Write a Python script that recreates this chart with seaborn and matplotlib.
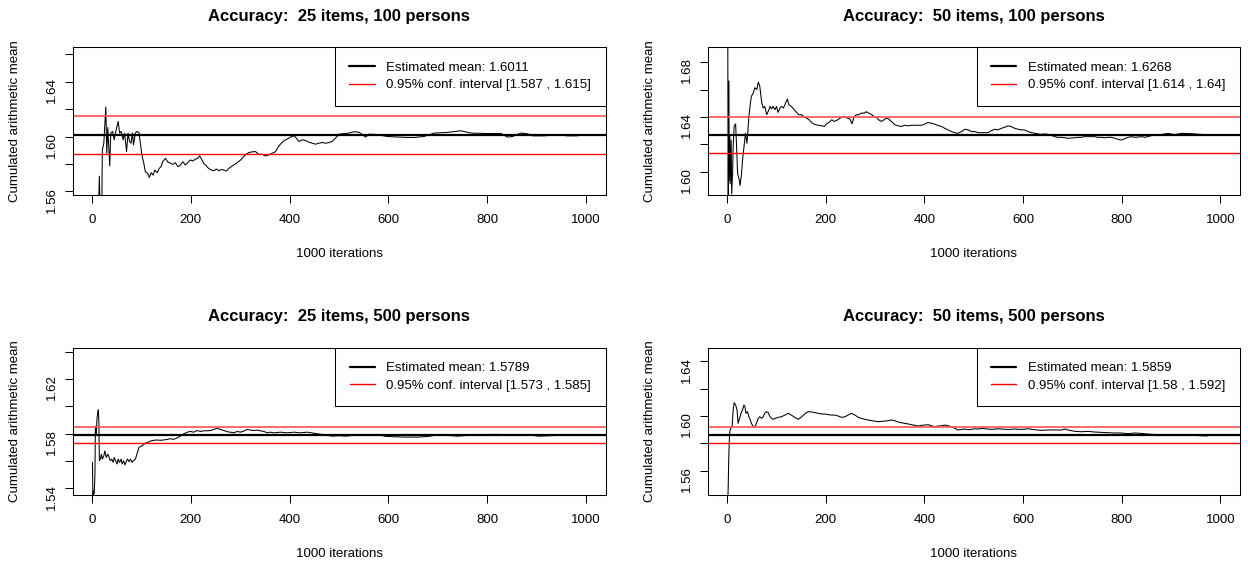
import matplotlib
matplotlib.use("Agg")
import matplotlib.pyplot as plt
import seaborn as sns
import pandas as pd
import numpy as np

# valeurs : (itération, moyenne cumulée)
items = [25, 50, 25, 50]
persons = [100, 100, 500, 500]
means = [1.6011, 1.6268, 1.5789, 1.5859]
ci_low = [1.587, 1.614, 1.573, 1.58]
ci_high = [1.615, 1.64, 1.585, 1.592]

curve_25_100 = [
    (1, 1.450), (3, 1.500), (8, 1.530), (13, 1.545), (15, 1.571), (16, 1.552),
    (20, 1.550), (21, 1.590), (24, 1.5951), (28, 1.6216), (30, 1.5878), (32, 1.6066),
    (36, 1.5785), (38, 1.6025), (42, 1.6037), (45, 1.5976), (49, 1.6049), (53, 1.6110),
    (56, 1.6025), (59, 1.6037), (63, 1.5976), (66, 1.6025), (70, 1.5890), (73, 1.6025),
    (76, 1.5964), (79, 1.5951), (82, 1.6025), (84, 1.5939), (88, 1.6025), (91, 1.6037),
    (95, 1.6030), (98, 1.5951), (101, 1.5866), (105, 1.5804), (108, 1.5743), (113, 1.5731),
    (116, 1.5701), (120, 1.5736), (124, 1.5718), (127, 1.5755), (132, 1.5736), (136, 1.5767),
    (140, 1.5780), (143, 1.5816), (149, 1.5841), (153, 1.5816), (159, 1.5804), (164, 1.5797),
    (169, 1.5809), (174, 1.5780), (179, 1.5792), (184, 1.5816), (189, 1.5792), (194, 1.5809),
    (199, 1.5829), (204, 1.5821), (209, 1.5834), (214, 1.5841), (218, 1.5858), (222, 1.5834),
    (226, 1.5804), (232, 1.5785), (236, 1.5767), (242, 1.5755), (247, 1.5750), (252, 1.5763),
    (257, 1.5750), (262, 1.5760), (267, 1.5755), (272, 1.5748), (277, 1.5767), (282, 1.5780),
    (287, 1.5792), (294, 1.5809), (301, 1.5829), (307, 1.5853), (313, 1.5873), (318, 1.5883),
    (324, 1.5888), (331, 1.5890), (338, 1.5870), (345, 1.5870), (351, 1.5858), (358, 1.5866),
    (365, 1.5878), (372, 1.5890), (376, 1.5919), (382, 1.5946), (389, 1.5971), (395, 1.5981),
    (402, 1.5996), (409, 1.6005), (414, 1.5988), (419, 1.5964), (426, 1.5976), (432, 1.5971),
    (439, 1.5959), (446, 1.5951), (453, 1.5944), (459, 1.5951), (466, 1.5956), (473, 1.5951),
    (480, 1.5956), (486, 1.5964), (493, 1.5988), (500, 1.6017), (507, 1.6020), (514, 1.6022),
    (520, 1.6025), (527, 1.6032), (534, 1.6035), (541, 1.6030), (547, 1.6015), (554, 1.5996),
    (561, 1.6017), (575, 1.6015), (598, 1.6000), (620, 1.5996), (640, 1.5993), (652, 1.5993),
    (672, 1.6000), (693, 1.6025), (720, 1.6030), (747, 1.6042), (767, 1.6025), (794, 1.6022),
    (828, 1.6022), (841, 1.5996), (851, 1.6000), (868, 1.6025), (882, 1.6020), (892, 1.6005),
    (916, 1.6005), (940, 1.6012), (963, 1.6005), (980, 1.6005), (1000, 1.6011),
]

curve_50_100 = [
    (1, 1.720), (2, 1.550), (3, 1.6662), (4, 1.5936), (5, 1.6256), (6, 1.5911),
    (8, 1.6230), (9, 1.5838), (11, 1.6000), (12, 1.6182), (14, 1.6330), (17, 1.6349),
    (19, 1.6182), (21, 1.5985), (24, 1.5948), (26, 1.5899), (29, 1.5985), (31, 1.6084),
    (34, 1.6182), (37, 1.6280), (40, 1.6207), (42, 1.6305), (44, 1.6403), (47, 1.6502),
    (49, 1.6551), (53, 1.6576), (56, 1.6613), (60, 1.6600), (63, 1.6654), (66, 1.6625),
    (70, 1.6502), (73, 1.6465), (76, 1.6477), (80, 1.6416), (83, 1.6440), (87, 1.6477),
    (90, 1.6458), (93, 1.6477), (97, 1.6453), (100, 1.6477), (103, 1.6433), (107, 1.6465),
    (110, 1.6477), (114, 1.6465), (117, 1.6490), (120, 1.6514), (122, 1.6531), (125, 1.6490),
    (130, 1.6477), (136, 1.6453), (141, 1.6433), (145, 1.6416), (151, 1.6416), (156, 1.6398),
    (161, 1.6391), (166, 1.6379), (171, 1.6359), (176, 1.6347), (181, 1.6342), (187, 1.6337),
    (191, 1.6337), (197, 1.6330), (201, 1.6349), (206, 1.6359), (212, 1.6379), (217, 1.6367),
    (222, 1.6374), (226, 1.6384), (232, 1.6398), (237, 1.6403), (242, 1.6394), (249, 1.6384),
    (253, 1.6349), (257, 1.6398), (262, 1.6416), (267, 1.6416), (272, 1.6428), (278, 1.6428),
    (282, 1.6438), (287, 1.6428), (293, 1.6416), (298, 1.6403), (303, 1.6396), (307, 1.6379),
    (313, 1.6367), (318, 1.6379), (323, 1.6391), (328, 1.6384), (333, 1.6367), (340, 1.6342),
    (347, 1.6335), (353, 1.6330), (360, 1.6339), (367, 1.6335), (374, 1.6339), (380, 1.6339),
    (387, 1.6339), (394, 1.6339), (401, 1.6349), (407, 1.6359), (414, 1.6354), (421, 1.6347),
    (428, 1.6337), (435, 1.6330), (441, 1.6317), (448, 1.6305), (455, 1.6293), (462, 1.6285),
    (468, 1.6280), (475, 1.6293), (482, 1.6310), (489, 1.6305), (495, 1.6293), (502, 1.6293),
    (509, 1.6285), (516, 1.6285), (522, 1.6285), (529, 1.6285), (536, 1.6300), (543, 1.6310),
    (549, 1.6305), (556, 1.6317), (563, 1.6325), (570, 1.6335), (576, 1.6330), (583, 1.6317),
    (590, 1.6310), (597, 1.6305), (603, 1.6305), (610, 1.6293), (617, 1.6285), (624, 1.6280),
    (630, 1.6276), (637, 1.6273), (644, 1.6276), (651, 1.6273), (657, 1.6266), (664, 1.6256),
    (671, 1.6251), (678, 1.6251), (685, 1.6248), (691, 1.6244), (698, 1.6246), (705, 1.6248),
    (712, 1.6251), (718, 1.6251), (725, 1.6256), (732, 1.6256), (739, 1.6256), (745, 1.6256),
    (752, 1.6251), (759, 1.6251), (766, 1.6248), (772, 1.6251), (779, 1.6251), (786, 1.6244),
    (793, 1.6236), (799, 1.6231), (806, 1.6241), (813, 1.6251), (820, 1.6256), (826, 1.6251),
    (833, 1.6253), (840, 1.6256), (847, 1.6251), (853, 1.6256), (860, 1.6263), (880, 1.6271),
    (894, 1.6280), (907, 1.6271), (921, 1.6280), (941, 1.6278), (970, 1.6270), (1000, 1.6268),
]

curve_25_500 = [
    (1, 1.5590), (2, 1.5300), (3, 1.5380), (4, 1.5360), (5, 1.5400), (6, 1.5500),
    (7, 1.5855), (9, 1.5800), (10, 1.5903), (12, 1.5963), (13, 1.5975), (14, 1.5880),
    (15, 1.5602), (17, 1.5614), (19, 1.5650), (21, 1.5614), (24, 1.5638), (26, 1.5674),
    (29, 1.5626), (32, 1.5650), (34, 1.5634), (37, 1.5602), (40, 1.5614), (43, 1.5590),
    (45, 1.5626), (48, 1.5602), (51, 1.5578), (53, 1.5614), (56, 1.5590), (59, 1.5614),
    (61, 1.5578), (64, 1.5602), (67, 1.5571), (70, 1.5602), (72, 1.5614), (75, 1.5595),
    (78, 1.5614), (81, 1.5590), (84, 1.5602), (88, 1.5614), (91, 1.5650), (95, 1.5698),
    (98, 1.5706), (101, 1.5710), (105, 1.5722), (108, 1.5730), (111, 1.5734), (115, 1.5739),
    (118, 1.5746), (125, 1.5751), (132, 1.5754), (138, 1.5751), (145, 1.5754), (152, 1.5758),
    (159, 1.5763), (165, 1.5758), (172, 1.5768), (179, 1.5782), (186, 1.5799), (193, 1.5811),
    (199, 1.5816), (206, 1.5811), (213, 1.5823), (220, 1.5816), (226, 1.5821), (233, 1.5821),
    (240, 1.5823), (247, 1.5831), (253, 1.5840), (260, 1.5831), (267, 1.5823), (274, 1.5814),
    (280, 1.5811), (287, 1.5806), (294, 1.5816), (301, 1.5811), (307, 1.5819), (314, 1.5831),
    (321, 1.5826), (328, 1.5823), (334, 1.5826), (341, 1.5821), (348, 1.5816), (355, 1.5806),
    (361, 1.5811), (368, 1.5806), (382, 1.5811), (395, 1.5806), (409, 1.5811), (422, 1.5806),
    (436, 1.5811), (455, 1.5800), (470, 1.5792), (486, 1.5782), (500, 1.5785), (514, 1.5782),
    (535, 1.5790), (557, 1.5787), (575, 1.5795), (595, 1.5780), (615, 1.5777), (632, 1.5775),
    (660, 1.5775), (682, 1.5780), (700, 1.5792), (740, 1.5782), (780, 1.5792), (820, 1.5795),
    (855, 1.5787), (880, 1.5792), (905, 1.5782), (940, 1.5787), (1000, 1.5789),
]

curve_50_500 = [
    (1, 1.5350), (2, 1.5482), (3, 1.5677), (4, 1.5799), (5, 1.5884), (7, 1.5909),
    (10, 1.5921), (12, 1.6043), (14, 1.6097), (17, 1.6080), (20, 1.6043), (22, 1.5945),
    (25, 1.5982), (28, 1.6019), (31, 1.6043), (34, 1.6080), (36, 1.6067), (38, 1.6019),
    (41, 1.6031), (44, 1.5994), (47, 1.5970), (49, 1.5945), (53, 1.5921), (56, 1.5914),
    (59, 1.5945), (63, 1.5982), (66, 1.5994), (70, 1.5982), (73, 1.5994), (76, 1.6019),
    (80, 1.6031), (83, 1.6024), (86, 1.5999), (90, 1.5982), (93, 1.5975), (97, 1.5982),
    (103, 1.5989), (110, 1.5994), (117, 1.6006), (124, 1.6019), (130, 1.6006), (137, 1.5989),
    (144, 1.5975), (151, 1.5994), (157, 1.6014), (164, 1.6031), (171, 1.6029), (178, 1.6024),
    (185, 1.6019), (191, 1.6014), (198, 1.6014), (205, 1.6009), (212, 1.6006), (218, 1.6006),
    (225, 1.5999), (232, 1.5989), (239, 1.5994), (245, 1.6006), (252, 1.6019), (259, 1.6006),
    (266, 1.5989), (272, 1.5982), (279, 1.5975), (286, 1.5970), (293, 1.5965), (299, 1.5962),
    (306, 1.5958), (313, 1.5960), (320, 1.5962), (326, 1.5965), (333, 1.5970), (340, 1.5965),
    (347, 1.5955), (353, 1.5950), (360, 1.5945), (367, 1.5941), (374, 1.5936), (380, 1.5931),
    (387, 1.5926), (394, 1.5931), (401, 1.5933), (407, 1.5936), (414, 1.5928), (421, 1.5921),
    (428, 1.5926), (435, 1.5928), (441, 1.5933), (448, 1.5928), (455, 1.5921), (462, 1.5909),
    (468, 1.5897), (475, 1.5901), (482, 1.5904), (489, 1.5899), (495, 1.5901), (502, 1.5906),
    (509, 1.5904), (516, 1.5909), (522, 1.5906), (529, 1.5904), (536, 1.5901), (543, 1.5904),
    (549, 1.5906), (556, 1.5904), (570, 1.5901), (583, 1.5904), (597, 1.5901), (610, 1.5906),
    (624, 1.5899), (637, 1.5894), (651, 1.5897), (664, 1.5897), (678, 1.5897), (685, 1.5904),
    (691, 1.5897), (705, 1.5887), (718, 1.5884), (732, 1.5887), (745, 1.5882), (759, 1.5879),
    (772, 1.5877), (786, 1.5875), (799, 1.5875), (813, 1.5870), (826, 1.5875), (840, 1.5872),
    (853, 1.5867), (880, 1.5862), (920, 1.5862), (972, 1.5853), (985, 1.5862), (1000, 1.5859),
]

curves = [curve_25_100, curve_50_100, curve_25_500, curve_50_500]

sns.set_theme(style="white")
plt.rcParams["font.family"] = ["Liberation Sans", "DejaVu Sans"]
plt.rcParams["axes.edgecolor"] = "black"
plt.rcParams["axes.linewidth"] = 0.75
plt.rcParams["text.color"] = "black"
plt.rcParams["axes.labelcolor"] = "black"

W, H = 1248, 565
fig = plt.figure(figsize=(W / 100, H / 100), dpi=100)

# cadres des 4 graphes en pixels : gauche, droite, haut, bas
boxes = [(72.7, 605.7, 47.3, 195.3), (708, 1240, 47.3, 195.3),
         (72.7, 605.7, 347.7, 495.3), (708, 1240, 347.7, 495.3)]
fs = 9.5

for i in range(4):
    l, r, t, b = boxes[i]
    ax = fig.add_axes([l / W, 1 - b / H, (r - l) / W, (b - t) / H])
    df = pd.DataFrame(curves[i], columns=["iteration", "cum_mean"])
    sns.lineplot(data=df, x="iteration", y="cum_mean", ax=ax, color="black",
                 lw=0.75, estimator=None)
    m = means[i]
    h_mean = ax.axhline(m, color="black", lw=1.6)
    ax.axhline(ci_high[i], color="#ff5050", lw=1.2)
    h_ci = ax.axhline(ci_low[i], color="#ff0000", lw=1.0)

    lo, hi = m - 0.044, m + 0.064
    ax.set_xlim(-39, 1040)
    ax.set_ylim(lo, hi)
    ax.set_xticks(range(0, 1001, 200))
    first = np.ceil(lo / 0.02 - 1e-9) * 0.02
    yt = np.arange(first, hi, 0.02)
    ax.set_yticks(yt)
    ax.set_yticklabels([f"{v:.2f}" if k % 2 == 0 else "" for k, v in enumerate(yt)])

    ax.tick_params(axis="both", bottom=True, left=True, length=6, width=0.75,
                   color="black", labelcolor="black", labelsize=fs)
    ax.tick_params(axis="x", pad=7.6)
    ax.tick_params(axis="y", labelrotation=90, pad=4.8)
    for sp in ax.spines.values():
        sp.set_color("black")
        sp.set_linewidth(0.75)

    ax.set_title(f"Accuracy:  {items[i]} items, {persons[i]} persons",
                 fontsize=12, fontweight="bold", y=1.21, va="center", pad=0,
                 color="black")
    ax.set_xlabel("1000 iterations", fontsize=fs, va="center")
    ax.xaxis.set_label_coords(0.5, -0.397)
    ax.set_ylabel("Cumulated arithmetic mean", fontsize=fs, va="center")
    ax.yaxis.set_label_coords(-58 / (r - l), 0.5)

    leg = ax.legend([h_mean, h_ci],
                    [f"Estimated mean: {m}",
                     f"0.95% conf. interval [{ci_low[i]} , {ci_high[i]}]"],
                    loc="upper right", borderaxespad=0, fontsize=fs,
                    handlelength=1.9, handletextpad=0.89, borderpad=1.1,
                    labelspacing=0.38, fancybox=False, framealpha=1,
                    edgecolor="black", labelcolor="black")
    leg.get_frame().set_linewidth(0.75)

plt.savefig("out.png", dpi=100)
